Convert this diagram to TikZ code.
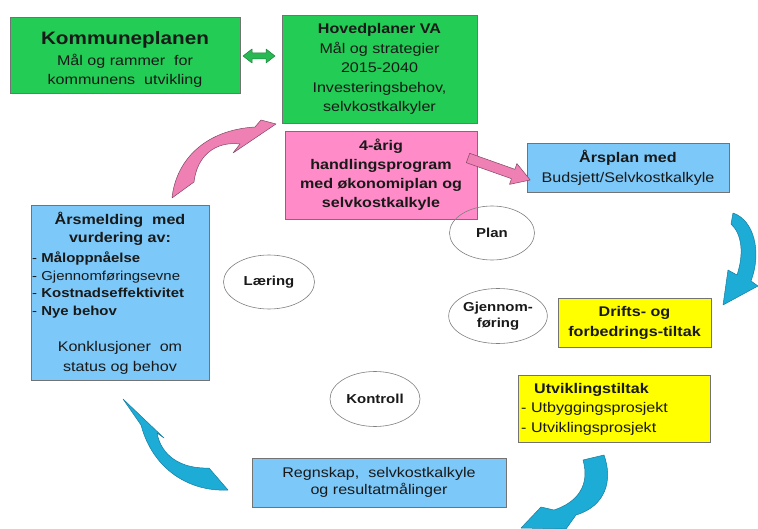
\documentclass[tikz,border=0pt]{standalone}
\usepackage{fontspec}
\setmainfont{Liberation Sans}[FakeStretch=1.15]
\usetikzlibrary{shapes.geometric}
\definecolor{kgreen}{RGB}{34,204,85}
\definecolor{kgreenarrow}{RGB}{40,185,85}
\definecolor{kpink}{RGB}{255,140,200}
\definecolor{kpinkarrow}{RGB}{238,128,180}
\definecolor{kblue}{RGB}{124,200,248}
\definecolor{kyellow}{RGB}{255,255,0}
\definecolor{karrow}{RGB}{28,172,214}
\definecolor{karrowedge}{RGB}{22,125,160}
\begin{document}
\begin{tikzpicture}[x=1pt,y=-1pt,
  box/.style={draw=black!55,line width=0.6pt,rectangle,inner sep=0pt,align=center,text=black!90,font=\fontsize{14}{19.5}\selectfont},
  oval/.style={draw=black!50,line width=0.6pt,ellipse,inner sep=0pt,align=center,text=black!90,font=\fontsize{13}{15}\selectfont\bfseries},
  txt/.style={inner sep=0pt,text=black!90},
  bluearrow/.style={fill=karrow,draw=karrowedge,line width=0.5pt,line join=round},
  pinkarrow/.style={fill=kpinkarrow,draw=black!45!kpinkarrow,line width=0.5pt,line join=round},
  greenarrow/.style={fill=kgreenarrow,draw=black!30!kgreenarrow,line width=0.5pt,line join=round}]
\fill[white] (0,0) rectangle (758,529);
\useasboundingbox (0,0) rectangle (758,529);

% boxes
\node[box,fill=kgreen,minimum width=230pt,minimum height=76pt] (kp) at (125,55) {};
\node[txt,align=center,font=\fontsize{14}{18.5}\selectfont] (kptext) at (125,59)
  {{\fontsize{18}{20}\selectfont\bfseries Kommuneplanen}\\[3pt] Mål og rammer\ \ for\\ kommunens\ \ utvikling};
\node[box,fill=kgreen,minimum width=195pt,minimum height=108pt] (hp) at (379.5,69)
  {\textbf{Hovedplaner VA}\\ Mål og strategier\\ 2015-2040\\ Investeringsbehov,\\ selvkostkalkyler};
\node[box,fill=kpink,minimum width=192pt,minimum height=88pt,font=\fontsize{14}{19}\selectfont\bfseries] (ha) at (381,175)
  {4-årig\\ handlingsprogram\\ med økonomiplan og\\ selvkostkalkyle};
\node[box,fill=kblue,minimum width=202pt,minimum height=49pt,font=\fontsize{14}{20}\selectfont] (ap) at (628,167.5)
  {\textbf{Årsplan med}\\ Budsjett/Selvkostkalkyle};
\node[box,fill=kblue,minimum width=178pt,minimum height=175pt] (am) at (120,292.5) {};
\node[txt,align=center,font=\fontsize{14}{18}\selectfont\bfseries] (amhead) at (120,229)
  {Årsmelding\ \ med\\ vurdering av:};
\node[txt,align=left,anchor=west,font=\fontsize{13}{17.8}\selectfont] (amlist) at (32,285)
  {- \textbf{Måloppnåelse}\\ - Gjennomføringsevne\\ - \textbf{Kostnadseffektivitet}\\ - \textbf{Nye behov}};
\node[txt,align=center,font=\fontsize{14}{20}\selectfont] (amconc) at (120,358)
  {Konklusjoner\ \ om\\ status og behov};
\node[box,fill=kyellow,minimum width=153pt,minimum height=49pt,font=\fontsize{14}{20}\selectfont\bfseries] (df) at (634.5,322.5)
  {Drifts- og\\ forbedrings-tiltak};
\node[box,fill=kyellow,minimum width=192pt,minimum height=67pt] (ut) at (614,408.5) {};
\node[txt,align=left,anchor=west,font=\fontsize{14}{19.5}\selectfont] (uttext) at (521,409)
  {\hspace{13pt}\textbf{Utviklingstiltak}\\ - Utbyggingsprosjekt\\ - Utviklingsprosjekt};
\node[box,fill=kblue,minimum width=254pt,minimum height=49pt,font=\fontsize{14}{17}\selectfont] (rg) at (379,482.5)
  {Regnskap,\ \ selvkostkalkyle\\ og resultatmålinger};

% ellipses
\node[oval,minimum width=85pt,minimum height=54pt] (plan) at (492,233) {Plan};
\node[oval,minimum width=91pt,minimum height=54pt] (laering) at (269,282) {Læring};
\node[oval,minimum width=90pt,minimum height=55pt,font=\fontsize{13}{16}\selectfont\bfseries] (gjen) at (498,316) {Gjennom-\\føring};
\node[oval,minimum width=90pt,minimum height=55pt] (kontroll) at (375,399) {Kontroll};

% green double arrow between Kommuneplanen and Hovedplaner
\filldraw[greenarrow] (243,56) -- (252,49) -- (252,53) -- (266,53) -- (266,49) -- (275,56)
  -- (266,63) -- (266,59) -- (252,59) -- (252,63) -- cycle;

% pink straight block arrow from handlingsprogram to Årsplan
\filldraw[pinkarrow] (469.7,153.3) -- (514.9,169.3) -- (516.9,163.6) -- (530.2,180)
  -- (509.5,184.4) -- (511.5,178.7) -- (466.3,162.7) -- cycle;

% pink curved arrow from Årsmelding up to Hovedplaner
\filldraw[pinkarrow] (172,198) .. controls (176,160) and (205,130) .. (255,127) -- (261,120) -- (276,124)
  -- (233,153) -- (240,144) .. controls (215,141) and (197,156) .. (194,182) -- cycle;

% blue curved arrows
\filldraw[bluearrow] (733,213) .. controls (754,220) and (762,252) .. (751,281) -- (758,286) -- (723,305)
  -- (728,270) -- (737,275) .. controls (744,254) and (742,234) .. (731,224) -- cycle;
\filldraw[bluearrow] (583,460) -- (604,455) .. controls (613,480) and (606,506) .. (576,515) -- (566,529)
  -- (521,528) -- (541,507) -- (554,510) .. controls (578,502) and (590,485) .. (583,460) -- cycle;
\filldraw[bluearrow] (228,490) .. controls (190,492) and (153,470) .. (141,425) -- (123,399) -- (164,438)
  -- (157,433) .. controls (161,455) and (180,469) .. (209,468) -- cycle;
\end{tikzpicture}
\end{document}
